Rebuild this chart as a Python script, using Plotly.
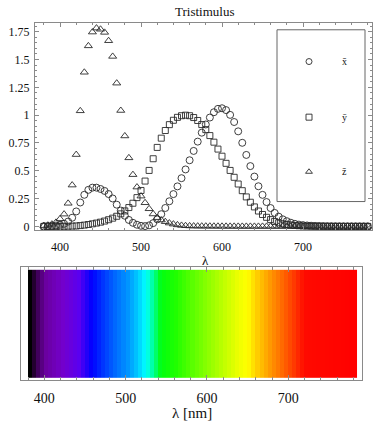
import plotly.graph_objects as go

# ---------------- data (CIE 1931 2-degree colour matching functions, 5 nm) -------------
wavelength_nm = list(range(380, 785, 5))

xbar = [0.001368, 0.002236, 0.004243, 0.007650, 0.014310, 0.023190, 0.043510, 0.077630,
        0.134380, 0.214770, 0.283900, 0.328500, 0.348280, 0.348060, 0.336200, 0.318700,
        0.290800, 0.251100, 0.195360, 0.142100, 0.095640, 0.057950, 0.032010, 0.014700,
        0.004900, 0.002400, 0.009300, 0.029100, 0.063270, 0.109600, 0.165500, 0.225750,
        0.290400, 0.359700, 0.433450, 0.512050, 0.594500, 0.678400, 0.762100, 0.842500,
        0.916300, 0.978600, 1.026300, 1.056700, 1.062200, 1.045600, 1.002600, 0.938400,
        0.854450, 0.751400, 0.642400, 0.541900, 0.447900, 0.360800, 0.283500, 0.218700,
        0.164900, 0.121200, 0.087400, 0.063600, 0.046770, 0.032900, 0.022700, 0.015840,
        0.011359, 0.008111, 0.005790, 0.004109, 0.002899, 0.002049, 0.001440, 0.001000,
        0.000690, 0.000476, 0.000332, 0.000235, 0.000166, 0.000117, 0.000083, 0.000059,
        0.000042]

ybar = [0.000039, 0.000064, 0.000120, 0.000217, 0.000396, 0.000640, 0.001210, 0.002180,
        0.004000, 0.007300, 0.011600, 0.016840, 0.023000, 0.029800, 0.038000, 0.048000,
        0.060000, 0.073900, 0.090980, 0.112600, 0.139020, 0.169300, 0.208020, 0.258600,
        0.323000, 0.407300, 0.503000, 0.608200, 0.710000, 0.793200, 0.862000, 0.914850,
        0.954000, 0.980300, 0.994950, 1.000000, 0.995000, 0.978600, 0.952000, 0.915400,
        0.870000, 0.816300, 0.757000, 0.694900, 0.631000, 0.566800, 0.503000, 0.441200,
        0.381000, 0.321000, 0.265000, 0.217000, 0.175000, 0.138200, 0.107000, 0.081600,
        0.061000, 0.044580, 0.032000, 0.023200, 0.017000, 0.011920, 0.008210, 0.005723,
        0.004102, 0.002929, 0.002091, 0.001484, 0.001047, 0.000740, 0.000520, 0.000361,
        0.000249, 0.000172, 0.000120, 0.000085, 0.000060, 0.000042, 0.000030, 0.000021,
        0.000015]

zbar = [0.006450, 0.010550, 0.020050, 0.036210, 0.067850, 0.110200, 0.207400, 0.371300,
        0.645600, 1.039050, 1.385600, 1.622960, 1.747060, 1.782600, 1.772110, 1.744100,
        1.669200, 1.528100, 1.287640, 1.041900, 0.812950, 0.616200, 0.465180, 0.353300,
        0.272000, 0.212300, 0.158200, 0.111700, 0.078250, 0.057250, 0.042160, 0.029840,
        0.020300, 0.013400, 0.008750, 0.005750, 0.003900, 0.002750, 0.002100, 0.001800,
        0.001650, 0.001400, 0.001100, 0.001000, 0.000800, 0.000600, 0.000340, 0.000240,
        0.000190, 0.000100, 0.000050, 0.000030, 0.000020, 0.000010, 0.0, 0.0,
        0.0, 0.0, 0.0, 0.0, 0.0, 0.0, 0.0, 0.0,
        0.0, 0.0, 0.0, 0.0, 0.0, 0.0, 0.0, 0.0,
        0.0, 0.0, 0.0, 0.0, 0.0, 0.0, 0.0, 0.0,
        0.0]

series_names = ["x̄", "ȳ", "z̄"]

y_tickvals = [0, 0.25, 0.5, 0.75, 1, 1.25, 1.5, 1.75]
y_ticktext = ["0", "0.25", "0.5", "0.75", "1", "1.25", "1.5", "1.75"]
x_tickvals = [400, 500, 600, 700]
x_ticktext = ["400", "500", "600", "700"]

# spectrum strip: cell edges and the colour scale (wavelength -> colour)
spectrum_edges_nm = list(range(380, 790, 5))
spectrum_centres_nm = wavelength_nm
spectrum_stop_nm = [380, 386, 392, 400, 420, 440, 456, 470, 485, 500, 512, 522,
                    531, 541, 560, 580, 600, 620, 638, 648, 660, 675, 690, 705,
                    718, 785]
spectrum_stop_color = ["#000000", "#2a0038", "#4d0070", "#6a00a0", "#7300cc", "#5a00f0",
                       "#0000ff", "#0035ff", "#0068ff", "#0095ff", "#00c8ff", "#00ffff",
                       "#00ffa0", "#00ff10", "#20ff00", "#5aff00", "#90ff00", "#c4ff00",
                       "#f0ff00", "#ffff00", "#ffcc00", "#ff9900", "#ff6a00", "#ff3a00",
                       "#ff0a00", "#ff0000"]

# ---------------- layout helpers ----------------
W, H = 373, 423
FONT = "'Liberation Serif', 'DejaVu Serif', serif"
FRAME = "#8a8a8a"
MARK = "#2a2a2a"


def fx(px):
    return px / W


def fy(py):
    return 1 - py / H


fig = go.Figure()

symbols = ["circle-open", "square-open", "triangle-up-open"]
sizes = [7, 6, 7]
for vals, name, sym, sz in zip([xbar, ybar, zbar], series_names, symbols, sizes):
    fig.add_trace(go.Scatter(
        x=wavelength_nm, y=vals, mode="markers", name=name,
        marker=dict(symbol=sym, size=sz, color=MARK, line=dict(width=0.9, color=MARK)),
        xaxis="x", yaxis="y", showlegend=False,
    ))

# spectrum strip
lo, hi = spectrum_edges_nm[0], spectrum_edges_nm[-1]
colorscale = [[(s - lo) / (hi - lo), c] for s, c in zip(spectrum_stop_nm, spectrum_stop_color)]
fig.add_trace(go.Heatmap(
    x=spectrum_edges_nm, y=[0, 1], z=[spectrum_centres_nm],
    zmin=lo, zmax=hi, colorscale=colorscale, showscale=False,
    hoverinfo="skip", xaxis="x2", yaxis="y2",
))

# custom legend glyphs (pixel overlay axis)
leg_y = [62, 118, 173]
for name, sym, yy in zip(series_names, symbols, leg_y):
    fig.add_trace(go.Scatter(
        x=[309], y=[yy], mode="markers",
        marker=dict(symbol=sym, size=6, color=MARK, line=dict(width=0.9, color=MARK)),
        xaxis="x3", yaxis="y3", showlegend=False, hoverinfo="skip",
    ))

axis_common = dict(showline=True, linecolor=FRAME, linewidth=1, mirror="allticks",
                   ticks="inside", tickcolor=FRAME, showgrid=False, zeroline=False)

fig.update_layout(
    width=W, height=H, margin=dict(l=0, r=0, t=0, b=0),
    paper_bgcolor="white", plot_bgcolor="rgba(0,0,0,0)",
    font=dict(family=FONT, color="#111"),
    xaxis=dict(domain=[fx(35), fx(372)], range=[369.1, 785.2], anchor="y",
               tickvals=x_tickvals, ticktext=x_ticktext, ticklen=4, ticklabelstandoff=5,
               minor=dict(dtick=20, tick0=380, ticklen=2, ticks="inside", tickcolor=FRAME),
               tickfont=dict(family=FONT, size=12, color="#111"), **axis_common),
    yaxis=dict(domain=[fy(232), fy(23)], range=[-0.0357, 1.830], anchor="x",
               tickvals=y_tickvals, ticktext=y_ticktext, ticklen=4, ticklabelstandoff=2,
               minor=dict(dtick=0.05, tick0=0, ticklen=2, ticks="inside", tickcolor=FRAME),
               tickfont=dict(family=FONT, size=12, color="#111"), **axis_common),
    xaxis2=dict(domain=[fx(20.7), fx(361.7)], range=[371.0, 790.2], anchor="y2",
                tickvals=x_tickvals, ticktext=x_ticktext, ticklen=5, ticklabelstandoff=5,
                minor=dict(dtick=20, tick0=380, ticklen=3, ticks="inside", tickcolor=FRAME),
                tickfont=dict(family=FONT, size=14, color="#111"), **axis_common),
    yaxis2=dict(domain=[fy(382.7), fy(269)], range=[-0.018, 1.025], anchor="x2",
                showline=True, linecolor=FRAME, mirror=True, ticks="",
                showticklabels=False, showgrid=False, zeroline=False),
    xaxis3=dict(domain=[0, 1], range=[0, W], anchor="y3", visible=False, fixedrange=True),
    yaxis3=dict(domain=[0, 1], range=[H, 0], anchor="x3", visible=False, fixedrange=True),
    shapes=[dict(type="rect", xref="paper", yref="paper",
                 x0=fx(277), x1=fx(365), y0=fy(203), y1=fy(30),
                 line=dict(color="#666", width=1), fillcolor="rgba(0,0,0,0)")],
)

ann = [
    dict(text="Tristimulus", x=fx(205), y=fy(12), font=dict(size=13)),
    dict(text="λ", x=fx(205), y=fy(262), font=dict(size=13)),
    dict(text="λ [nm]", x=fx(192), y=fy(415.5), font=dict(size=15)),
]
for name, yy in zip(series_names, leg_y):
    ann.append(dict(text=name, x=fx(344), y=fy(yy), font=dict(size=10)))
for a in ann:
    fig.add_annotation(xref="paper", yref="paper", showarrow=False,
                       xanchor="center", yanchor="middle",
                       x=a["x"], y=a["y"], text=a["text"],
                       font=dict(family=FONT, color="#111", **a["font"]))

fig.write_html("out.html", config={"displayModeBar": False},
               post_script="document.body.style.margin='0';document.body.style.overflow='hidden';")
